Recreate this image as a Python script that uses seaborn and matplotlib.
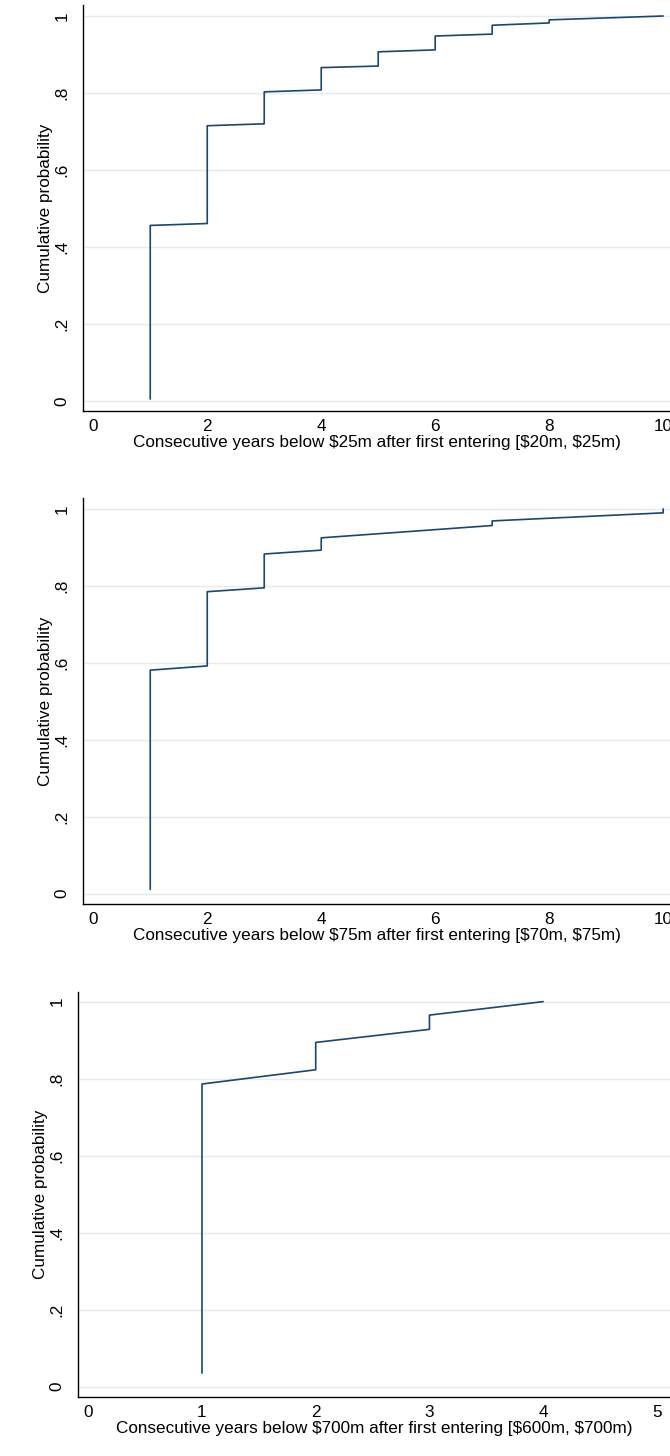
import pandas as pd
import numpy as np
import matplotlib.pyplot as plt
import seaborn as sns

LINE  = "#1a476f"
GRID  = "#e4eded"
AXIS  = "#000000"

sns.set_theme(style="white")
plt.rcParams["font.family"] = ["Liberation Sans", "DejaVu Sans"]

# ── Data (cumulative probability at each step) ────
# value just before the jump at each year, and value after the jump
years_25 = [1, 2, 3, 4, 5, 6, 7, 8, 10]
low_25   = [0.005, 0.461, 0.720, 0.808, 0.870, 0.912, 0.953, 0.982, 1.000]
high_25  = [0.456, 0.715, 0.803, 0.866, 0.907, 0.948, 0.976, 0.990, 1.000]

years_75 = [1, 2, 3, 4, 7, 10]
low_75   = [0.011, 0.592, 0.795, 0.893, 0.957, 0.990]
high_75  = [0.581, 0.785, 0.883, 0.925, 0.969, 1.000]

years_700 = [1, 2, 3, 4]
low_700   = [0.035, 0.823, 0.928, 1.000]
high_700  = [0.786, 0.894, 0.965, 1.000]

xlabels = [
    "Consecutive years below $25m after first entering [$20m, $25m)",
    "Consecutive years below $75m after first entering [$70m, $75m)",
    "Consecutive years below $700m after first entering [$600m, $700m)",
]
xticks_list = [[0, 2, 4, 6, 8, 10], [0, 2, 4, 6, 8, 10], [0, 1, 2, 3, 4, 5]]
yticks = [0, 0.2, 0.4, 0.6, 0.8, 1.0]
ytick_labels = ["0", ".2", ".4", ".6", ".8", "1"]

FS = 12.3


def to_frame(years, low, high):
    xs, ys = [], []
    for x, a, b in zip(years, low, high):
        xs += [x, x]
        ys += [a, b]
    return pd.DataFrame({"years": xs, "cum": ys})


panels = [
    (to_frame(years_25, low_25, high_25), [83/670, 1-411/1456, 587/670, 406/1456], (-0.18, 10.12), (-0.026, 1.0286)),
    (to_frame(years_75, low_75, high_75), [83/670, 1-904/1456, 587/670, 406/1456], (-0.18, 10.12), (-0.027, 1.0286)),
    (to_frame(years_700, low_700, high_700), [78/670, 1-1397/1456, 592/670, 405/1456], (-0.09, 5.115), (-0.027, 1.025)),
]

fig = plt.figure(figsize=(6.70, 14.56), dpi=100, facecolor="white")

for (df, rect, xlim, ylim), xl, xt in zip(panels, xlabels, xticks_list):
    ax = fig.add_axes(rect)
    sns.lineplot(data=df, x="years", y="cum", sort=False, estimator=None,
                 color=LINE, linewidth=1.2, ax=ax)
    ax.set_xlim(*xlim)
    ax.set_ylim(*ylim)
    ax.set_yticks(yticks)
    ax.set_yticklabels(ytick_labels, rotation=90, va="center")
    ax.set_xticks(xt)
    ax.set_xticklabels([str(t) for t in xt])
    for y in yticks:
        ax.axhline(y, color=GRID, lw=1.0, zorder=0)
    ax.grid(False)
    for side in ["top", "right"]:
        ax.spines[side].set_visible(False)
    for side in ["left", "bottom"]:
        ax.spines[side].set_color(AXIS)
        ax.spines[side].set_linewidth(1.0)
    ax.tick_params(axis="both", direction="out", length=4.5, width=0.8,
                   color="#333333", labelsize=FS, labelcolor="black")
    ax.tick_params(axis="y", pad=5)
    ax.tick_params(axis="x", pad=1)
    ax.set_xlabel(xl, fontsize=FS, color="black", labelpad=1)
    ax.set_ylabel("Cumulative probability", fontsize=FS, color="black", labelpad=1)

fig.savefig("out.png", dpi=100, facecolor="white")
